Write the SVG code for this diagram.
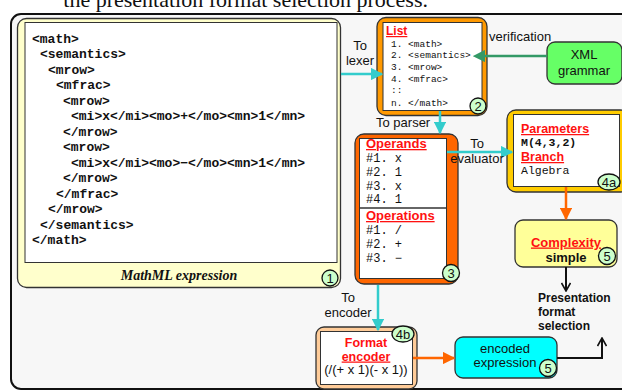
<svg xmlns="http://www.w3.org/2000/svg" width="622" height="390" viewBox="0 0 622 390">
<defs>
<style>
.sans{font-family:"Liberation Sans",Arial,sans-serif}
.mono{font-family:"Liberation Mono","Courier New",monospace}
.code{font-family:"Liberation Mono","Courier New",monospace;font-size:13px;font-weight:bold;fill:#111}
.lst{font-family:"Liberation Mono","Courier New",monospace;font-size:9.5px;fill:#111}
.ops{font-family:"Liberation Mono","Courier New",monospace;font-size:12px;fill:#111}
.hd{font-family:"Liberation Sans",Arial,sans-serif;font-weight:bold;fill:#ff1111;text-decoration:underline}
.lbl{font-family:"Liberation Sans",Arial,sans-serif;font-size:13px;fill:#111}
.badge{fill:#ccffcc;stroke:#111;stroke-width:1.3}
.bt{font-family:"Liberation Sans",Arial,sans-serif;font-size:13px;fill:#111;text-anchor:middle}
.cy{stroke:#33cccc;stroke-width:2.5;fill:none}
.or{stroke:#ff6600;stroke-width:2.5;fill:none}
.gr{stroke:#339966;stroke-width:2.5;fill:none}
.bk{stroke:#111;stroke-width:2;fill:none}
</style>
<marker id="mc" viewBox="0 0 10 10" refX="9" refY="5" markerWidth="5" markerHeight="5" orient="auto" markerUnits="strokeWidth"><path d="M0,0 L10,5 L0,10 z" fill="#33cccc"/></marker>
<marker id="mo" viewBox="0 0 10 10" refX="9" refY="5" markerWidth="5" markerHeight="5" orient="auto" markerUnits="strokeWidth"><path d="M0,0 L10,5 L0,10 z" fill="#ff6600"/></marker>
<marker id="mg" viewBox="0 0 10 10" refX="1" refY="5" markerWidth="5" markerHeight="5" orient="auto-start-reverse" markerUnits="strokeWidth"><path d="M0,0 L10,5 L0,10 z" fill="#339966"/></marker>
<marker id="mb" viewBox="0 0 10 10" refX="9" refY="5" markerWidth="5" markerHeight="5" orient="auto" markerUnits="strokeWidth"><path d="M1,0.5 L9,5 L1,9.5" fill="none" stroke="#111" stroke-width="1.6"/></marker>
</defs>
<rect width="622" height="390" fill="#ffffff"/>
<text x="428" y="7" text-anchor="end" font-family="'Liberation Serif','Times New Roman',serif" font-size="22" fill="#111">the presentation format selection process.</text>
<rect x="11" y="14" width="630" height="375" rx="10" fill="#f7f7f7" stroke="#111" stroke-width="2"/>

<g id="node1">
<rect x="17.5" y="18.5" width="323" height="269" rx="9" fill="#ffffcc" stroke="#333" stroke-width="1.3"/>
<rect x="25" y="22.5" width="312" height="240" fill="#ffffff" stroke="#333" stroke-width="1"/>
<text class="code" x="32" y="43">&lt;math&gt;</text>
<text class="code" x="40" y="58">&lt;semantics&gt;</text>
<text class="code" x="48" y="74">&lt;mrow&gt;</text>
<text class="code" x="56" y="89">&lt;mfrac&gt;</text>
<text class="code" x="63" y="105">&lt;mrow&gt;</text>
<text class="code" x="71" y="120">&lt;mi&gt;x&lt;/mi&gt;&lt;mo&gt;+&lt;/mo&gt;&lt;mn&gt;1&lt;/mn&gt;</text>
<text class="code" x="63" y="136">&lt;/mrow&gt;</text>
<text class="code" x="63" y="151">&lt;mrow&gt;</text>
<text class="code" x="71" y="167">&lt;mi&gt;x&lt;/mi&gt;&lt;mo&gt;−&lt;/mo&gt;&lt;mn&gt;1&lt;/mn&gt;</text>
<text class="code" x="63" y="182">&lt;/mrow&gt;</text>
<text class="code" x="56" y="198">&lt;/mfrac&gt;</text>
<text class="code" x="48" y="213">&lt;/mrow&gt;</text>
<text class="code" x="40" y="229">&lt;/semantics&gt;</text>
<text class="code" x="32" y="244">&lt;/math&gt;</text>
<text x="179" y="280" text-anchor="middle" font-family="'Liberation Serif','Times New Roman',serif" font-size="14" font-weight="bold" font-style="italic" fill="#111">MathML expression</text>
<circle class="badge" cx="330" cy="278" r="8"/>
<text class="bt" x="330" y="282.5" font-size="12">1</text>
</g>

<g id="node2">
<rect x="377" y="17.5" width="110" height="98" rx="9" fill="#ff9900" stroke="#333" stroke-width="1.3"/>
<rect x="383" y="22.5" width="99" height="88" fill="#ffffff" stroke="#333" stroke-width="1"/>
<text class="hd" x="386" y="35" font-size="12">List</text>
<text class="lst" x="391" y="47">1. &lt;math&gt;</text>
<text class="lst" x="391" y="58">2. &lt;semantics&gt;</text>
<text class="lst" x="391" y="70">3. &lt;mrow&gt;</text>
<text class="lst" x="391" y="82">4. &lt;mfrac&gt;</text>
<text class="lst" x="391" y="93">::</text>
<text class="lst" x="391" y="106">n. &lt;/math&gt;</text>
<circle class="badge" cx="478" cy="106" r="8"/>
<text class="bt" x="478" y="110.5" font-size="12">2</text>
</g>

<g id="xmlgrammar">
<rect x="547" y="42" width="75" height="42" rx="8" fill="#66ff66" stroke="#333" stroke-width="1.3"/>
<text class="bt" x="584" y="59" font-size="14">XML</text>
<text class="bt" x="584" y="75" font-size="14">grammar</text>
</g>

<g id="node3">
<rect x="355" y="134" width="103" height="150" rx="9" fill="#ff6600" stroke="#333" stroke-width="1.3"/>
<rect x="359.5" y="138.5" width="87" height="140" fill="#ffffff" stroke="#333" stroke-width="1"/>
<line x1="359.5" y1="208" x2="446.5" y2="208" stroke="#333" stroke-width="1.3"/>
<text class="hd" x="366" y="148" font-size="13">Operands</text>
<text class="ops" x="366" y="162">#1. x</text>
<text class="ops" x="366" y="176">#2. 1</text>
<text class="ops" x="366" y="190">#3. x</text>
<text class="ops" x="366" y="203">#4. 1</text>
<text class="hd" x="366" y="220" font-size="13">Operations</text>
<text class="ops" x="366" y="234">#1. /</text>
<text class="ops" x="366" y="248">#2. +</text>
<text class="ops" x="366" y="262">#3. −</text>
<circle class="badge" cx="451" cy="273" r="8.5"/>
<text class="bt" x="451" y="277.5" font-size="12">3</text>
</g>

<g id="node4a">
<rect x="507" y="110" width="122" height="82" rx="9" fill="#ffcc00" stroke="#333" stroke-width="1.3"/>
<rect x="513.5" y="114.5" width="106" height="72" fill="#ffffff" stroke="#333" stroke-width="1"/>
<text class="hd" x="521" y="133" font-size="12.5">Parameters</text>
<text class="mono" x="521" y="146" font-size="11.5" font-weight="bold" fill="#111">M(4,3,2)</text>
<text class="hd" x="521" y="161" font-size="12.5">Branch</text>
<text class="mono" x="521" y="174" font-size="11.5" fill="#111">Algebra</text>
<ellipse class="badge" cx="609" cy="182" rx="11" ry="8"/>
<text class="bt" x="609" y="186.5" font-size="12">4a</text>
</g>

<g id="node5complexity">
<rect x="515" y="220" width="102" height="47" rx="8" fill="#ffff99" stroke="#333" stroke-width="1.3"/>
<text class="hd" x="566" y="246.5" font-size="13" text-anchor="middle">Complexity</text>
<text class="bt" x="566" y="262" font-weight="bold">simple</text>
<circle class="badge" cx="607" cy="256" r="8.5"/>
<text class="bt" x="607" y="260.5" font-size="12">5</text>
</g>

<g id="selection">
<text class="sans" x="538" y="302" font-size="12" font-weight="bold" fill="#111">Presentation</text>
<text class="sans" x="538" y="316" font-size="12" font-weight="bold" fill="#111">format</text>
<text class="sans" x="538" y="329.5" font-size="12" font-weight="bold" fill="#111">selection</text>
</g>

<g id="node4b">
<rect x="316" y="327" width="101" height="62" rx="8" fill="#ffcc99" stroke="#333" stroke-width="1.3"/>
<rect x="320.5" y="331.5" width="92" height="53" fill="#ffffff" stroke="#333" stroke-width="1"/>
<text class="sans" x="366" y="347" font-size="12.5" font-weight="bold" fill="#ff1111" text-anchor="middle">Format</text>
<text class="hd" x="366" y="360.5" font-size="12.5" text-anchor="middle">encoder</text>
<text class="bt" x="366" y="374" font-size="12.5">(/(+ x 1)(- x 1))</text>
<ellipse class="badge" cx="403" cy="334" rx="11" ry="8"/>
<text class="bt" x="403" y="338.5" font-size="12">4b</text>
</g>

<g id="node5encoded">
<rect x="455" y="337" width="102" height="41" rx="8" fill="#00ffff" stroke="#333" stroke-width="1.3"/>
<text class="bt" x="505" y="353">encoded</text>
<text class="bt" x="505" y="367">expression</text>
<circle class="badge" cx="548" cy="368" r="8.5"/>
<text class="bt" x="548" y="372.5" font-size="12">5</text>
</g>

<g id="connectors">
<line class="cy" x1="341" y1="74" x2="382" y2="74" marker-end="url(#mc)"/>
<text class="lbl" x="360" y="50" text-anchor="middle">To</text>
<text class="lbl" x="360" y="65" text-anchor="middle">lexer</text>
<line class="gr" x1="547" y1="56" x2="484" y2="56" marker-end="url(#mg)"/>
<text class="lbl" x="489" y="41">verification</text>
<line class="cy" x1="440" y1="111" x2="440" y2="133" marker-end="url(#mc)"/>
<text class="lbl" x="376" y="127">To parser</text>
<line class="cy" x1="447" y1="152" x2="512" y2="152" marker-end="url(#mc)"/>
<text class="lbl" x="477" y="148" text-anchor="middle">To</text>
<text class="lbl" x="477" y="163" text-anchor="middle">evaluator</text>
<line class="or" x1="566" y1="187" x2="566" y2="219" marker-end="url(#mo)"/>
<line class="bk" x1="566" y1="267" x2="566" y2="291" marker-end="url(#mb)"/>
<line class="cy" x1="378" y1="285" x2="378" y2="330" marker-end="url(#mc)"/>
<text class="lbl" x="348" y="302" text-anchor="middle">To</text>
<text class="lbl" x="348" y="317" text-anchor="middle">encoder</text>
<line class="or" x1="413" y1="358" x2="454" y2="358" marker-end="url(#mo)"/>
<polyline class="bk" points="557,358 602,358 602,338" marker-end="url(#mb)"/>
</g>
</svg>
